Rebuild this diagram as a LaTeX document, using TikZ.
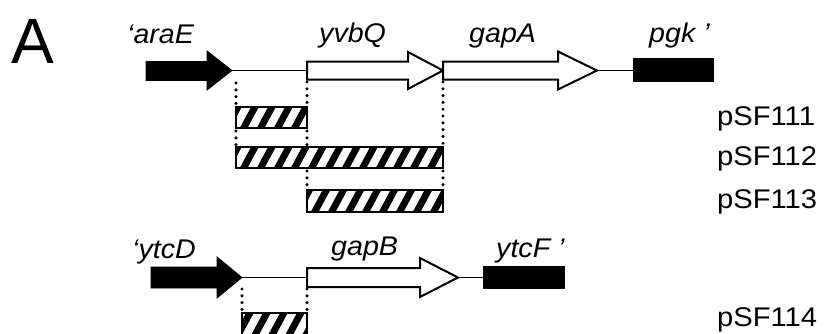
\documentclass[tikz,border=0pt]{standalone}
\usepackage{fontspec}
\setmainfont{Liberation Sans}
\newcommand\genelab[1]{\scalebox{1.06}[1]{\itshape #1}}
\newcommand\plab[1]{\scalebox{1.08}[1]{#1}}
\tikzset{
  lab/.style={inner sep=0pt, anchor=base west, font=\fontsize{27}{27}\selectfont},
  solidgene/.style={fill=black, draw=black, line width=0.8pt, line join=miter},
  opengene/.style={fill=white, draw=black, line width=2pt, line join=miter},
  link/.style={line width=1.7pt},
  stripe/.style={line width=6.8pt},
  boxedge/.style={draw=black, line width=2.2pt},
  dots/.style={line width=3.4pt, line cap=round, dash pattern=on 0pt off 6.8pt}
}
% hatched rectangle: left, top, right, bottom (y grows downward)
\newcommand\hatchrect[4]{%
  \begin{scope}
    \clip (#1,#2) rectangle (#3,#4);
    \foreach \i in {0,...,16} {\draw[stripe] ({#1-28+17*\i},{#4+3}) -- ++(28,-52);}
  \end{scope}
  \draw[boxedge] (#1,#2) rectangle (#3,#4);
}
\begin{document}
\begin{tikzpicture}[x=1pt,y=-1pt]
\useasboundingbox (0,0) rectangle (828,333);
\clip (0,0) rectangle (828,333);

% panel letter
\node[inner sep=0pt, anchor=base west, font=\fontsize{64}{64}\selectfont] (A) at (11,63) {A};

% ---------- top operon ----------
\coordinate (araEtip) at (232,70.5);
\coordinate (yvbQstart) at (307,70.5);
\coordinate (yvbQtip) at (443,70.5);
\coordinate (gapAtip) at (597,70.5);
\coordinate (pgkstart) at (633,70.5);

\draw[link] (araEtip) -- (yvbQstart);
\draw[link] (gapAtip) -- (pgkstart);

\fill[solidgene] (146,61.5) -- (207,61.5) -- (207,51) -- (araEtip) -- (207,90) -- (207,80.5) -- (146,80.5) -- cycle;
\draw[opengene] (307,61.5) -- (408,61.5) -- (408,52) -- (yvbQtip) -- (408,89) -- (408,79.5) -- (307,79.5) -- cycle;
\draw[opengene] (443,61.5) -- (558,61.5) -- (558,51.5) -- (gapAtip) -- (558,89.5) -- (558,79.5) -- (443,79.5) -- cycle;
\fill[solidgene] (633,58) rectangle (713,81);

\node[lab] (araE) at (127,43) {\genelab{‘araE}};
\node[lab] (yvbQ) at (319,42) {\genelab{yvbQ}};
\node[lab] (gapA) at (469,42) {\genelab{gapA}};
\node[lab] (pgk) at (649,42) {\genelab{pgk ’}};

% hatched fragments
\hatchrect{236}{107}{307}{128}
\hatchrect{236}{147}{443}{168}
\hatchrect{307}{190}{443}{212}

\draw[dots] (236,83) -- (236,105);
\draw[dots] (236,131) -- (236,145);
\draw[dots] (307,82) -- (307,105);
\draw[dots] (307,131) -- (307,145);
\draw[dots] (307,171) -- (307,188);
\draw[dots] (443,82) -- (443,145);
\draw[dots] (443,171) -- (443,188);

\node[lab] (p111) at (717,125) {\plab{pSF111}};
\node[lab] (p112) at (717,165) {\plab{pSF112}};
\node[lab] (p113) at (717,208) {\plab{pSF113}};

% ---------- bottom operon ----------
\coordinate (ytcDtip) at (242,277.5);
\coordinate (gapBstart) at (307,277.5);
\coordinate (gapBtip) at (458,277.5);
\coordinate (ytcFstart) at (483,277.5);

\draw[link] (ytcDtip) -- (gapBstart);
\draw[link] (gapBtip) -- (ytcFstart);

\fill[solidgene] (151,267) -- (217,267) -- (217,257) -- (ytcDtip) -- (217,298) -- (217,288) -- (151,288) -- cycle;
\draw[opengene] (307,268) -- (420,268) -- (420,258) -- (gapBtip) -- (420,297) -- (420,287) -- (307,287) -- cycle;
\fill[solidgene] (483,266.5) rectangle (564,288.5);

\node[lab] (ytcD) at (132,258) {\genelab{‘ytcD}};
\node[lab] (gapB) at (331,255) {\genelab{gapB}};
\node[lab] (ytcF) at (496,257) {\genelab{ytcF ’}};

\hatchrect{242}{313}{307}{345}
\draw[dots] (242,289) -- (242,311);
\draw[dots] (307,289) -- (307,311);

\node[lab] (p114) at (717,326) {\plab{pSF114}};
\end{tikzpicture}
\end{document}
